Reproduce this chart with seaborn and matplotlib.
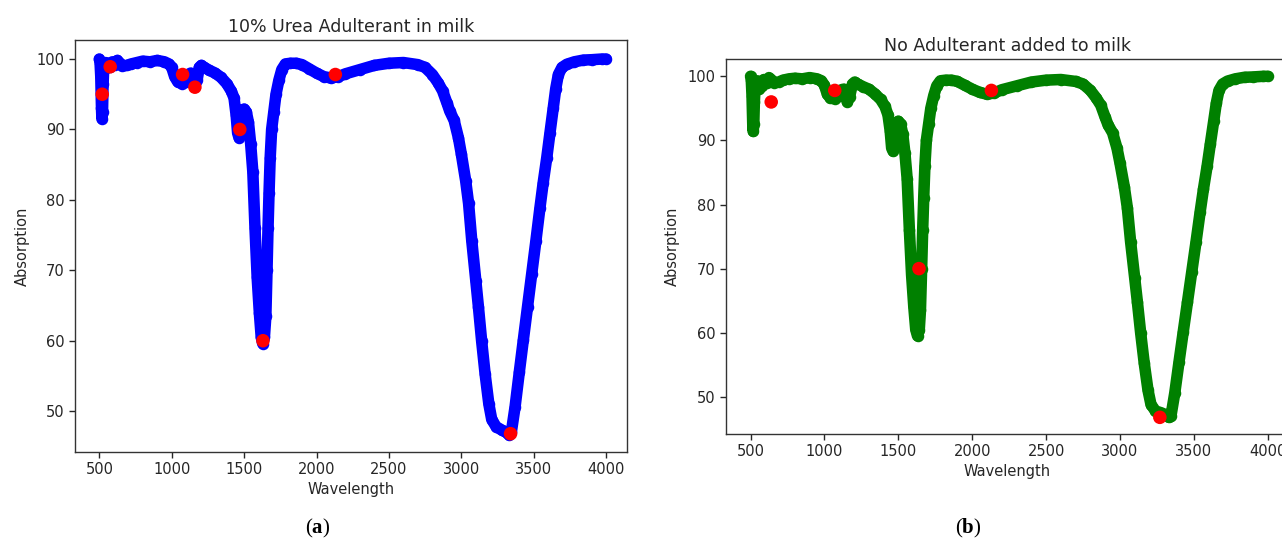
import numpy as np
import pandas as pd
import matplotlib
matplotlib.use("Agg")
import matplotlib.pyplot as plt
import seaborn as sns

# ---------------- data ----------------
urea_wl = [500, 505, 510, 515, 518, 522, 526, 530, 545, 560, 575, 590, 610, 625, 640, 660,
           690, 720, 760, 800, 850, 900, 950, 980, 1000, 1020, 1040, 1070, 1100, 1115, 1130,
           1145, 1160, 1175, 1190, 1205, 1225, 1260, 1300, 1340, 1380, 1410, 1430, 1445, 1455,
           1465, 1475, 1485, 1500, 1515, 1530, 1545, 1560, 1575, 1590, 1605, 1618, 1628, 1640,
           1650, 1658, 1665, 1672, 1680, 1690, 1705, 1720, 1740, 1760, 1785, 1820, 1860, 1900,
           1950, 2000, 2050, 2100, 2150, 2200, 2300, 2400, 2500, 2600, 2700, 2750, 2800, 2840,
           2870, 2900, 2920, 2950, 2980, 3000, 3030, 3050, 3072, 3100, 3118, 3140, 3164, 3190,
           3210, 3240, 3280, 3310, 3330, 3345, 3371, 3400, 3428, 3457, 3486, 3515, 3543, 3565,
           3590, 3612, 3635, 3652, 3670, 3695, 3728, 3780, 3843, 3900, 3970, 4000]
urea_abs = [100.0, 99.5, 97.5, 93.0, 91.5, 92.5, 96.5, 98.5, 99.5, 98.8, 98.9, 99.6, 99.2, 99.8,
            99.4, 99.0, 99.1, 99.3, 99.5, 99.7, 99.6, 99.8, 99.6, 99.3, 98.8, 97.5, 96.8, 96.5,
            96.8, 97.8, 98.0, 97.2, 96.4, 97.0, 98.8, 99.1, 98.8, 98.4, 98.0, 97.4, 96.5, 95.5,
            94.5, 92.0, 89.5, 88.8, 89.5, 92.0, 92.9, 92.5, 91.0, 88.0, 84.0, 76.0, 69.0, 64.0,
            60.5, 59.6, 60.5, 63.5, 70.0, 76.0, 81.0, 86.0, 90.0, 92.5, 95.0, 97.0, 98.5, 99.3,
            99.4, 99.4, 99.2, 98.6, 98.0, 97.5, 97.3, 97.5, 97.9, 98.5, 99.1, 99.4, 99.5, 99.2,
            98.8, 97.8, 96.6, 95.5, 93.8, 92.6, 91.3, 88.8, 86.5, 82.7, 79.5, 74.2, 68.5, 64.8,
            60.0, 55.3, 51.0, 48.8, 47.8, 47.3, 47.0, 46.6, 47.0, 50.6, 55.5, 60.1, 64.8, 69.5,
            74.2, 78.9, 82.4, 86.0, 89.5, 93.1, 95.8, 97.8, 98.8, 99.25, 99.6, 99.85, 99.9,
            100.0, 100.0]
urea_peak_wl = [520, 575, 1075, 1160, 1470, 1630, 2130, 3340]
urea_peak_abs = [95.0, 98.9, 97.8, 96.0, 90.0, 60.0, 97.8, 46.8]

pure_wl = [500, 505, 510, 515, 518, 522, 526, 530, 545, 560, 575, 590, 610, 625, 640, 660,
           690, 720, 760, 800, 850, 900, 950, 980, 1000, 1020, 1040, 1070, 1100, 1115, 1130,
           1145, 1155, 1170, 1190, 1205, 1225, 1260, 1300, 1340, 1380, 1410, 1430, 1445, 1455,
           1465, 1475, 1485, 1500, 1515, 1530, 1545, 1560, 1575, 1590, 1605, 1618, 1630, 1642,
           1650, 1658, 1665, 1672, 1680, 1690, 1705, 1720, 1740, 1760, 1785, 1820, 1860, 1900,
           1950, 2000, 2050, 2100, 2150, 2200, 2300, 2400, 2500, 2600, 2700, 2750, 2800, 2840,
           2870, 2900, 2920, 2950, 2980, 3000, 3030, 3050, 3072, 3100, 3118, 3140, 3164, 3190,
           3210, 3240, 3280, 3310, 3330, 3345, 3371, 3400, 3428, 3457, 3486, 3515, 3543, 3565,
           3590, 3612, 3635, 3652, 3670, 3695, 3728, 3780, 3843, 3900, 3970, 4000]
pure_abs = [100.0, 99.5, 97.0, 92.5, 91.4, 92.5, 96.0, 98.0, 99.3, 98.0, 98.5, 99.5, 99.0, 99.8,
            99.5, 99.0, 99.1, 99.4, 99.6, 99.7, 99.6, 99.8, 99.6, 99.3, 98.6, 97.2, 96.6, 96.5,
            96.9, 97.9, 98.0, 96.8, 96.0, 96.8, 98.8, 99.1, 98.8, 98.4, 98.0, 97.3, 96.4, 95.3,
            94.0, 91.5, 88.8, 88.3, 89.2, 92.0, 93.0, 92.6, 91.0, 88.0, 84.0, 76.0, 69.0, 64.0,
            60.5, 59.5, 60.5, 63.5, 70.0, 76.0, 81.0, 86.0, 90.0, 92.5, 95.0, 97.0, 98.5, 99.3,
            99.4, 99.4, 99.2, 98.6, 98.0, 97.5, 97.2, 97.4, 97.9, 98.5, 99.1, 99.4, 99.5, 99.2,
            98.8, 97.8, 96.6, 95.5, 93.6, 92.4, 91.2, 88.8, 86.5, 82.7, 79.5, 74.2, 68.5, 64.8,
            60.0, 55.3, 51.0, 48.8, 47.8, 47.5, 47.2, 46.8, 47.0, 50.6, 55.5, 60.1, 64.8, 69.5,
            74.2, 78.9, 82.4, 86.0, 89.5, 93.1, 95.8, 97.8, 98.8, 99.25, 99.6, 99.85, 99.9,
            100.0, 100.0]
pure_peak_wl = [640, 1070, 1640, 2130, 3270]
pure_peak_abs = [96.0, 97.8, 70.0, 97.8, 46.8]

titles = ["10% Urea Adulterant in milk", "No Adulterant added to milk"]
captions = ["a", "b"]
x_ticks = [500, 1000, 1500, 2000, 2500, 3000, 3500, 4000]
y_ticks = [50, 60, 70, 80, 90, 100]

# ---------------- styling ----------------
sns.set_style("ticks")
plt.rcParams["font.family"] = ["DejaVu Sans"]
plt.rcParams["mathtext.fontset"] = "custom"
plt.rcParams["mathtext.rm"] = "Liberation Serif"
plt.rcParams["mathtext.bf"] = "Liberation Serif:bold"
txt = "#262626"

fig = plt.figure(figsize=(12.82, 5.43), dpi=100)
ax1 = fig.add_axes([75 / 1282, 1 - 452 / 543, 552 / 1282, 412 / 543])
ax2 = fig.add_axes([725.7 / 1282, 1 - 434 / 543, 563.3 / 1282, 375 / 543])

panels = [
    (ax1, urea_wl, urea_abs, urea_peak_wl, urea_peak_abs, "blue"),
    (ax2, pure_wl, pure_abs, pure_peak_wl, pure_peak_abs, "green"),
]

for i, (ax, wl, ab, pwl, pab, col) in enumerate(panels):
    df = pd.DataFrame({"Wavelength": wl, "Absorption": ab})
    sns.lineplot(data=df, x="Wavelength", y="Absorption", ax=ax, color=col,
                 linewidth=8.3, sort=False, estimator=None,
                 marker="o", markersize=8.3, markeredgewidth=0,
                 solid_capstyle="round", solid_joinstyle="round", zorder=2)
    pk = pd.DataFrame({"Wavelength": pwl, "Absorption": pab})
    sns.scatterplot(data=pk, x="Wavelength", y="Absorption", ax=ax, color="red",
                    s=95, edgecolor="none", linewidth=0, zorder=3)
    ax.set_xlim(332, 4144)
    ax.set_ylim(44.2, 102.7)
    ax.set_xticks(x_ticks)
    ax.set_yticks(y_ticks)
    ax.tick_params(labelsize=10.5, colors=txt, length=4, width=1)
    ax.set_xlabel("Wavelength", fontsize=10.5, color=txt, labelpad=3)
    ax.set_ylabel("Absorption", fontsize=10.5, color=txt, labelpad=5)
    ax.set_title(titles[i], fontsize=12.5, color=txt, pad=6)
    for s in ax.spines.values():
        s.set_visible(True)
        s.set_color("#333333")
        s.set_linewidth(1.0)

fig.text(318 / 1282, 1 - 528 / 543, r"($\mathbf{a}$)", ha="center", va="center",
         fontsize=15, family="Liberation Serif", color="black")
fig.text(968 / 1282, 1 - 528 / 543, r"($\mathbf{b}$)", ha="center", va="center",
         fontsize=15, family="Liberation Serif", color="black")

fig.savefig("out.png", dpi=100)
